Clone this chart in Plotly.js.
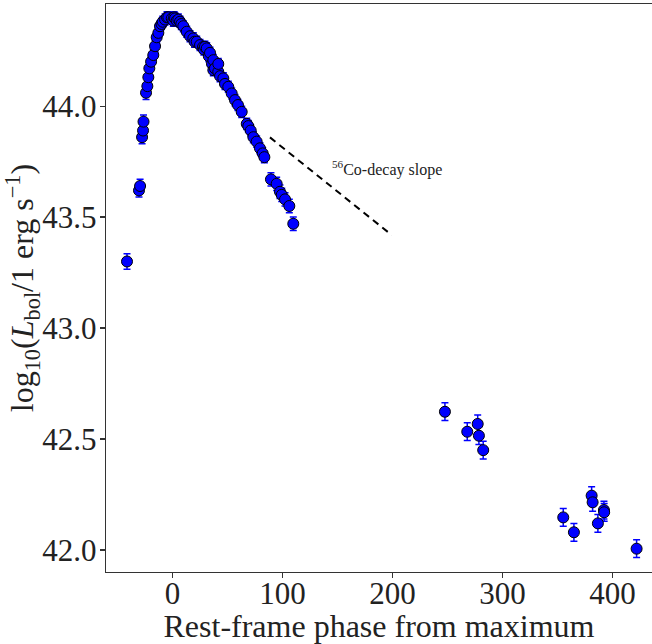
<!DOCTYPE html>
<html>
<head>
<meta charset="utf-8">
<script src="https://cdn.plot.ly/plotly-3.0.1.min.js"></script>
<style>html,body{margin:0;padding:0;background:#fff;}#chart{width:652px;height:644px;}</style>
</head>
<body>
<div id="chart"></div>
<script>
// Rest-frame phase (days from maximum)
const phase = [-41.4, -30.5, -29.5, -27.7, -26.8, -26.4, -24.1, -22.9, -22.0, -21.1,
  -19.5, -17.5, -15.9, -14.4, -12.9, -11.4, -10.0, -8.9, -6.8, -5.0, -3.8, -0.7, 0.7, 1.5,
  2.3, 3.8, 5.3, 6.8, 8.0, 9.8, 12.9, 15.9, 18.9, 20.0, 22.0, 25.0, 27.7, 28.5, 29.5,
  31.1, 33.0, 34.1, 35.9, 37.1, 37.1, 38.6, 41.6, 41.6, 43.2, 46.2, 47.7, 50.7, 53.8,
  56.8, 59.5, 62.9, 67.5, 68.9, 71.1, 73.5, 76.5, 79.5, 82.0, 83.5,
  89.5, 94.7, 97.7, 99.3, 102.3, 106.2, 109.8,
  247.7, 268.0, 277.5, 278.6, 282.5,
  355.3, 365.0, 381.1, 382.0, 386.8, 392.3, 392.5, 422.0];
// log10 bolometric luminosity
const logL = [43.30, 43.62, 43.64, 43.86, 43.89, 43.93, 44.06, 44.09, 44.13, 44.17,
  44.20, 44.23, 44.27, 44.31, 44.33, 44.36, 44.37, 44.38, 44.39, 44.40, 44.40, 44.395, 44.385, 44.40,
  44.395, 44.385, 44.39, 44.38, 44.37, 44.36, 44.335, 44.315, 44.305, 44.29, 44.29, 44.275, 44.266, 44.255, 44.267,
  44.26, 44.225, 44.24, 44.19, 44.207, 44.162, 44.17, 44.155, 44.19, 44.135, 44.125, 44.10, 44.087, 44.057,
  44.027, 44.005, 43.974, 43.92, 43.91, 43.89, 43.86, 43.84, 43.81, 43.787, 43.77,
  43.67, 43.65, 43.614, 43.60, 43.58, 43.55, 43.47,
  42.623, 42.533, 42.568, 42.515, 42.45,
  42.147, 42.080, 42.245, 42.215, 42.12, 42.18, 42.17, 42.006];
// 1-sigma uncertainties
const logLErr = [0.035, 0.03, 0.03, 0.03, 0.03, 0.03, 0.03, 0.03, 0.03, 0.03,
  0.025, 0.025, 0.025, 0.025, 0.025, 0.025, 0.025, 0.025, 0.025, 0.025, 0.025, 0.025, 0.025, 0.025,
  0.025, 0.025, 0.025, 0.025, 0.025, 0.025, 0.025, 0.025, 0.025, 0.025, 0.025, 0.025, 0.025, 0.025, 0.025,
  0.025, 0.025, 0.025, 0.025, 0.025, 0.025, 0.025, 0.025, 0.025, 0.025, 0.025, 0.025, 0.025, 0.025,
  0.025, 0.025, 0.025, 0.025, 0.025, 0.025, 0.025, 0.025, 0.025, 0.025, 0.025,
  0.03, 0.03, 0.03, 0.03, 0.03, 0.03, 0.03,
  0.04, 0.04, 0.04, 0.04, 0.04,
  0.04, 0.04, 0.04, 0.04, 0.04, 0.04, 0.04, 0.04];
// 56Co decay reference slope
const coPhase = [88.6, 199.3];
const coLogL = [43.859, 43.419];
const coLabel = '<sup>56</sup>Co-decay slope';
const xTicks = [0, 100, 200, 300, 400];
const yTicks = [42.0, 42.5, 43.0, 43.5, 44.0];

const serif = 'Liberation Serif, DejaVu Serif, serif';

const traces = [
  {
    x: coPhase, y: coLogL, mode: 'lines', type: 'scatter',
    line: {color: '#000', width: 2, dash: '7px,5px'}, hoverinfo: 'skip'
  },
  {
    x: phase, y: logL, mode: 'markers', type: 'scatter',
    marker: {color: '#0000ff', size: 11, line: {color: '#000', width: 1}},
    error_y: {type: 'data', array: logLErr, visible: true, color: '#0000ff', thickness: 1.5, width: 3.5}
  }
];

const layout = {
  width: 652, height: 644,
  margin: {l: 106, r: 0, t: 4, b: 72},
  paper_bgcolor: '#fff', plot_bgcolor: '#fff',
  showlegend: false,
  font: {family: serif, color: '#000'},
  xaxis: {
    range: [-60.5, 436], tickvals: xTicks, ticktext: xTicks.map(String),
    ticks: 'outside', ticklen: 5, tickwidth: 1.2, tickcolor: '#333',
    showline: true, linecolor: '#333', linewidth: 1.3, mirror: true,
    showgrid: false, zeroline: false, ticklabelstandoff: -12,
    tickfont: {family: serif, size: 31, color: '#222'},
    title: {text: 'Rest-frame phase from maximum', font: {family: serif, size: 32, color: '#222'}, standoff: 4}
  },
  yaxis: {
    range: [41.901, 44.46], tickvals: yTicks, ticktext: yTicks.map(v => v.toFixed(1)),
    ticks: 'outside', ticklen: 5, tickwidth: 1.2, tickcolor: '#333',
    showline: true, linecolor: '#333', linewidth: 1.3, mirror: false,
    showgrid: false, zeroline: false, ticklabelstandoff: -3,
    tickfont: {family: serif, size: 31, color: '#222'},
    title: {text: 'log<sub>10</sub>(<i>L</i><sub>bol</sub>/1 erg s<sup>−1</sup>)', font: {family: serif, size: 32, color: '#222'}, standoff: 10}
  },
  annotations: [{
    x: 195, y: 43.72, xref: 'x', yref: 'y', text: coLabel, showarrow: false,
    xanchor: 'center', yanchor: 'middle', font: {family: serif, size: 16, color: '#222'}
  }]
};

Plotly.newPlot('chart', traces, layout, {displayModeBar: false, staticPlot: true});
</script>
</body>
</html>
